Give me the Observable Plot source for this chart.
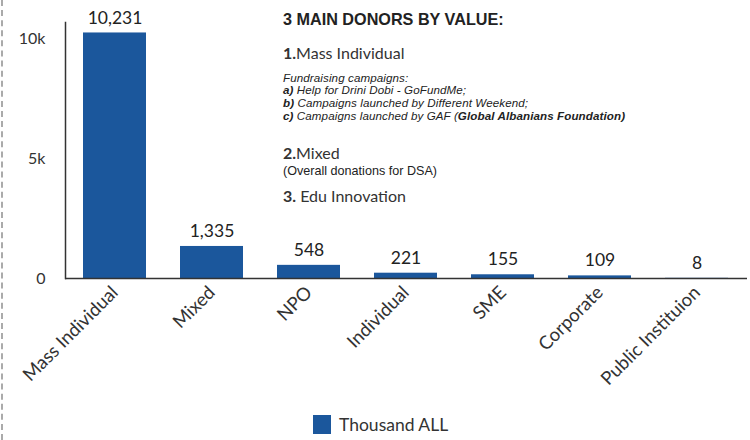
<!DOCTYPE html>
<html>
<head>
<meta charset="utf-8">
<script src="https://cdn.jsdelivr.net/npm/d3@7"></script>
<script src="https://cdn.jsdelivr.net/npm/@observablehq/plot@0.6"></script>
<style>
  html, body { margin: 0; padding: 0; background: #fff; }
  #wrap { position: relative; width: 750px; height: 440px; overflow: hidden; }
  #dash { position: absolute; left: 1px; top: 0; width: 0; height: 440px; border-left: 2px dashed #aaa; }
  #chart { position: absolute; left: 0; top: 0; }
  .ln { position: absolute; left: 283px; white-space: nowrap; color: #222; }
  .h { font-family: "Liberation Sans", Arial, sans-serif; font-weight: bold; font-size: 16.2px; line-height: 20px; }
  .item { font-family: Lato, sans-serif; font-size: 16px; line-height: 20px; color: #333; }
  .small { font-family: "Liberation Sans", Arial, sans-serif; font-style: italic; font-size: 11.6px; line-height: 12px; color: #222; letter-spacing: 0.1px; }
  .small b { display: inline-block; line-height: 12px; }
  .paren { font-family: "Liberation Sans", Arial, sans-serif; font-size: 12.6px; line-height: 14px; color: #222; }
  #legend { position: absolute; left: 313px; top: 414px; display: flex; align-items: center; font-family: Lato, sans-serif; font-size: 17.5px; color: #333; }
  #legend .sw { width: 18px; height: 19px; background: #1b579c; margin-right: 8px; }
</style>
</head>
<body>
<div id="wrap">
  <div id="dash"></div>
  <div id="chart"></div>
  <div class="ln h" style="top:9px">3 MAIN DONORS BY VALUE:</div>
  <div class="ln item" style="top:43px"><b>1.</b>Mass Individual</div>
  <div class="ln small" style="top:71.5px">Fundraising campaigns:</div>
  <div class="ln small" style="top:84.2px"><b>a)</b> Help for Drini Dobi - GoFundMe;</div>
  <div class="ln small" style="top:96.9px"><b>b)</b> Campaigns launched by Different Weekend;</div>
  <div class="ln small" style="top:109.6px"><b>c)</b> Campaigns launched by GAF (<b>Global Albanians Foundation)</b></div>
  <div class="ln item" style="top:143px"><b>2.</b>Mixed</div>
  <div class="ln paren" style="top:164px">(Overall donations for DSA)</div>
  <div class="ln item" style="top:186px"><b>3.</b> Edu Innovation</div>
  <div id="legend"><div class="sw"></div><span>Thousand ALL</span></div>
</div>
<script>
const categories = ["Mass Individual", "Mixed", "NPO", "Individual", "SME", "Corporate", "Public Instituion"];
const values = [10231, 1335, 548, 221, 155, 109, 8];
const yTicks = [0, 5000, 10000];

const data = categories.map((c, i) => ({category: c, value: values[i]}));

const chart = Plot.plot({
  width: 750,
  height: 405,
  marginLeft: 65,
  marginRight: 3,
  marginTop: 22,
  marginBottom: 127,
  style: {fontFamily: "Lato, sans-serif", fontSize: "16px", color: "#333", background: "transparent"},
  x: {domain: categories, paddingInner: 0.35, paddingOuter: 0.175, label: null},
  y: {domain: [0, 10667], ticks: yTicks, tickFormat: d3.format("~s"), label: null, tickSize: 0, tickPadding: 20},
  marks: [
    Plot.barY(data, {x: "category", y: "value", fill: "#1b579c"}),
    Plot.text(data, {x: "category", y: "value", text: d => d3.format(",")(d.value), dy: -15, fontSize: 17.5, fill: "#222"}),
    Plot.ruleY([0], {stroke: "#333", strokeWidth: 1.5}),
    Plot.frame({anchor: "left", stroke: "#333", strokeWidth: 1.5}),
    Plot.axisX({tickSize: 0, tickRotate: -45, tickPadding: 11, fontSize: 18.5, label: null})
  ]
});
document.getElementById("chart").appendChild(chart);
</script>
</body>
</html>
